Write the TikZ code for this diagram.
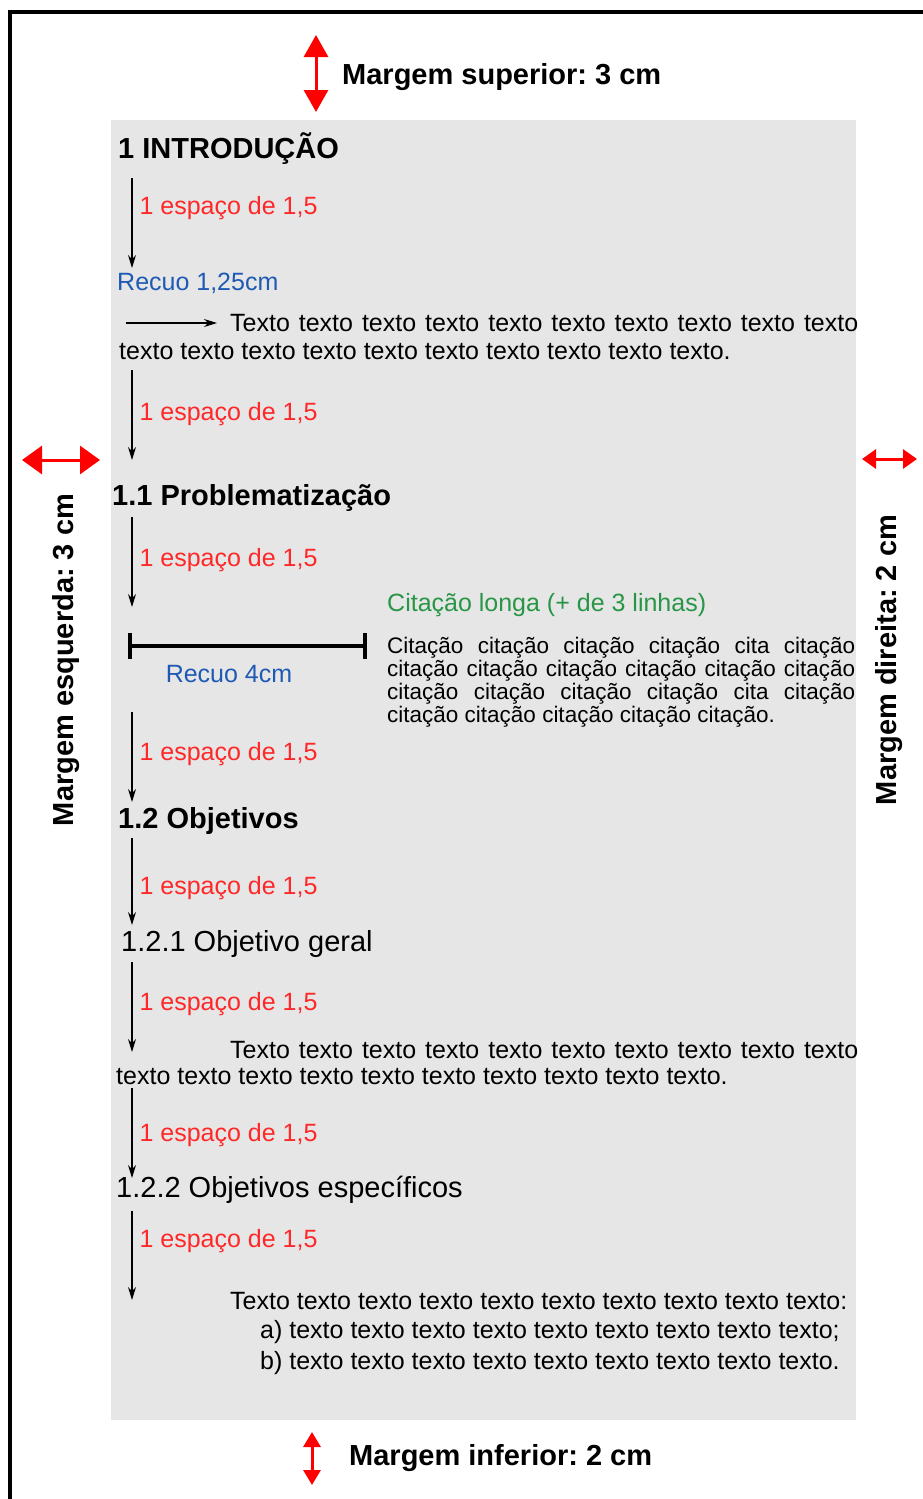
\documentclass[tikz,border=0pt]{standalone}
\usepackage{fontspec}
\setmainfont{Liberation Sans}
\usetikzlibrary{arrows.meta}
\frenchspacing

\definecolor{espacocor}{RGB}{255,40,40}
\definecolor{recuocor}{RGB}{30,90,180}
\definecolor{citacaocor}{RGB}{40,150,70}
\definecolor{folhacor}{RGB}{230,230,230}

\newcommand{\tam}[2]{\fontsize{#1}{#2}\selectfont}
\newcommand{\linhacheia}[1]{\makebox[628pt][s]{#1}}

\begin{document}
\begin{tikzpicture}[x=1pt,y=-1pt,
		titulo/.style={anchor=west,inner sep=0pt,font=\tam{29}{33}\bfseries},
		subtitulo/.style={anchor=west,inner sep=0pt,font=\tam{29}{33}},
		texto/.style={anchor=west,inner sep=0pt,font=\tam{25}{29}},
		espaco/.style={anchor=west,inner sep=0pt,xshift=7pt,text=espacocor,font=\tam{25}{29}},
		recuo/.style={inner sep=0pt,text=recuocor,font=\tam{25}{29}},
		margem/.style={inner sep=0pt,font=\tam{29}{33}\bfseries},
		seta/.style={draw=black,line width=1.2pt,-{Stealth[length=13pt,width=8pt]}},
		duplaseta/.style n args={2}{draw=red,line width=3pt,{Triangle[length=#1,width=#2]}-{Triangle[length=#1,width=#2]}}
	]
	\useasboundingbox (0,0) rectangle (923,1499);
	\fill[folhacor] (111,120) rectangle (856,1420);
	\draw[line width=4pt] (10,1499) -- (10,12) -- (923,12);

	\begin{scope}[every node/.style={margem}]
		\coordinate (sup1) at (316,35);
		\coordinate (sup2) at (316,112);
		\coordinate (inf1) at (312,1432);
		\coordinate (inf2) at (312,1485);
		\coordinate (esq1) at (22,460);
		\coordinate (esq2) at (100,460);
		\coordinate (dir1) at (862,459);
		\coordinate (dir2) at (917,459);
		\node[anchor=west] (sup) at (342,77) {Margem superior: 3 cm};
		\node[anchor=west] (inf) at (349,1458) {Margem inferior: 2 cm};
		\node[rotate=90] (esq) at (66,660) {Margem esquerda: 3 cm};
		\node[rotate=90] (dir) at (889,660) {Margem direita: 2 cm};
	\end{scope}
	\draw[duplaseta={22pt}{24pt}] (sup1) -- (sup2);
	\draw[duplaseta={15pt}{17pt}] (inf1) -- (inf2);
	\draw[duplaseta={20pt}{28pt}] (esq1) -- (esq2);
	\draw[duplaseta={14pt}{19pt}] (dir1) -- (dir2);

	\node[titulo] (intro) at (118,149) {1 INTRODUÇÃO};
	\node[recuo,anchor=west] (recuoa) at (117,283) {Recuo 1,25cm};
	\coordinate (ind1) at (126,323);
	\coordinate (ind2) at (217,323);
	\draw[seta] (ind1) -- (ind2);
	\node[texto] (par1a) at (230,323) {\linhacheia{Texto texto texto texto texto texto texto texto texto texto}};
	\node[texto] (par1b) at (119,352) {texto texto texto texto texto texto texto texto texto texto.};

	\node[titulo] (probl) at (112,498) {1.1 Problematização};
	\node[anchor=west,inner sep=0pt,text=citacaocor,font=\tam{25}{29}] (longa) at (387,605) {Citação longa (+ de 3 linhas)};
	\coordinate (rec1) at (128,646);
	\coordinate (rec2) at (367,646);
	\draw[line width=4pt,{Bar[width=26pt]}-{Bar[width=26pt]}] (rec1) -- (rec2);
	\node[recuo] (recuob) at (229,674) {Recuo 4cm};
	\node[anchor=north west,inner sep=0pt,text width=468pt,align=justify,font=\tam{22.5}{23}] (cita) at (387,637)
		{Citação citação citação citação cita citação\linebreak
		citação citação citação citação citação citação\linebreak
		citação citação citação citação cita citação\linebreak
		citação citação citação citação citação.};

	\node[titulo] (obj) at (118,821) {1.2 Objetivos};
	\node[subtitulo] (geral) at (121,944) {1.2.1 Objetivo geral};
	\node[texto] (par2a) at (230,1050) {\linhacheia{Texto texto texto texto texto texto texto texto texto texto}};
	\node[texto] (par2b) at (116,1077) {texto texto texto texto texto texto texto texto texto texto.};
	\node[subtitulo] (espec) at (116,1190) {1.2.2 Objetivos específicos};
	\node[texto] (lista) at (230,1301) {Texto texto texto texto texto texto texto texto texto texto:};
	\node[texto] (listaa) at (260,1332) {a) texto texto texto texto texto texto texto texto texto;};
	\node[texto] (listab) at (260,1363) {b) texto texto texto texto texto texto texto texto texto.};

	\coordinate (e1a) at (132,178);  \coordinate (e1b) at (132,268);
	\coordinate (e2a) at (132,370);  \coordinate (e2b) at (132,460);
	\coordinate (e3a) at (132,517);  \coordinate (e3b) at (132,607);
	\coordinate (e4a) at (132,712);  \coordinate (e4b) at (132,802);
	\coordinate (e5a) at (132,838);  \coordinate (e5b) at (132,925);
	\coordinate (e6a) at (132,962);  \coordinate (e6b) at (132,1052);
	\coordinate (e7a) at (132,1088); \coordinate (e7b) at (132,1178);
	\coordinate (e8a) at (132,1211); \coordinate (e8b) at (132,1300);

	\begin{scope}[every edge/.style={seta}]
		\path (e1a) edge node[espaco,pos=0.33] {1 espaço de 1,5} (e1b);
		\path (e2a) edge node[espaco,pos=0.49] {1 espaço de 1,5} (e2b);
		\path (e3a) edge node[espaco,pos=0.48] {1 espaço de 1,5} (e3b);
		\path (e4a) edge node[espaco,pos=0.47] {1 espaço de 1,5} (e4b);
		\path (e5a) edge node[espaco,pos=0.57] {1 espaço de 1,5} (e5b);
		\path (e6a) edge node[espaco,pos=0.47] {1 espaço de 1,5} (e6b);
		\path (e7a) edge node[espaco,pos=0.52] {1 espaço de 1,5} (e7b);
		\path (e8a) edge node[espaco,pos=0.34] {1 espaço de 1,5} (e8b);
	\end{scope}
\end{tikzpicture}
\end{document}
